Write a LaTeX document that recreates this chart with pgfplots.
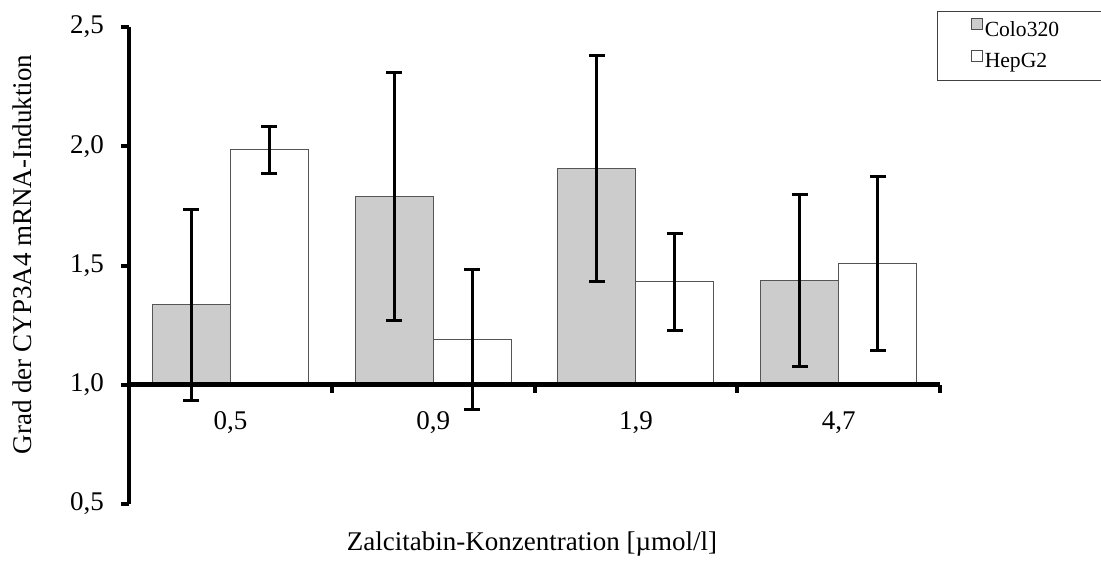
\documentclass[border=0pt]{standalone}
\usepackage{fontspec}
\setmainfont{Liberation Serif}
\usepackage{pgfplots}
\usepackage{pgfplotstable}
\pgfplotsset{compat=1.18}
\definecolor{barfill}{HTML}{CCCCCC}
\definecolor{baredge}{HTML}{555555}
\pgfplotstableread{
x y e
0 1.335 0.400
1 1.788 0.520
2 1.907 0.475
3 1.438 0.360
}\colo
\pgfplotstableread{
x y e
0 1.985 0.098
1 1.190 0.293
2 1.432 0.203
3 1.508 0.365
}\hepg
\begin{document}
\begin{tikzpicture}
\useasboundingbox (0,0) rectangle (550.5pt,287pt);
\begin{axis}[
  at={(64.5pt,35pt)}, anchor=south west,
  scale only axis, width=405.5pt, height=238.5pt,
  y coord trafo/.code={\pgfmathparse{#1-1}},
  y coord inv trafo/.code={\pgfmathparse{#1+1}},
  ymin=0.5, ymax=2.5,
  xmin=-0.5, xmax=3.5,
  clip=false,
  axis on top,
  axis y line*=left, axis x line*=middle,
  axis line style={line width=2.3pt, black},
  ytick={0.5,1,1.5,2,2.5},
  yticklabels={{0,5},{1,0},{1,5},{2,0},{2,5}},
  xtick={-0.5,0.5,1.5,2.5,3.5},
  xticklabels={},
  extra x ticks={0,1,2,3},
  extra x tick labels={{0,5},{0,9},{1,9},{4,7}},
  extra x tick style={major tick length=0pt, tick style={draw=none}},
  tick style={line width=2pt, black},
  major tick length=4pt,
  tick align=outside,
  ticklabel style={font=\fontsize{13.5}{16}\selectfont},
  yticklabel style={xshift=-5pt},
  xticklabel style={anchor=base, yshift=-22.5pt},
  ylabel={Grad der CYP3A4 mRNA-Induktion},
  xlabel={Zalcitabin-Konzentration [µmol/l]},
  every axis y label/.style={at={(axis description cs:-0.132,0.523)}, rotate=90, anchor=center, font=\fontsize{13.5}{16}\selectfont},
  every axis x label/.style={at={(axis description cs:0.497,-0.084)}, anchor=center, font=\fontsize{13.5}{16}\selectfont},
  ybar=0pt, bar width=39pt,
  legend style={at={(axis description cs:0.996,1.034)}, anchor=north west,
    draw=black!75, line width=0.6pt, font=\fontsize{10.8}{12}\selectfont,
    inner xsep=17pt, inner ysep=3pt, row sep=3pt,
    nodes={inner xsep=1pt}},
  legend cell align=left,
]
\addplot[fill=barfill, draw=baredge, line width=0.5pt,
  legend image code/.code={\draw[fill=barfill, draw=black!70, line width=0.4pt] (0pt,0.5pt) rectangle (5.3pt,5.8pt);},
  error bars/.cd, y dir=both, y explicit,
  error bar style={line width=1.6pt, black},
  error mark options={rotate=90, mark size=4pt, line width=1.6pt, black},
  ]
  table[x=x, y=y, y error=e] {\colo};
\addlegendentry{Colo320\hspace*{40pt}}
\addplot[fill=white, draw=baredge, line width=0.5pt,
  legend image code/.code={\draw[fill=white, draw=black!70, line width=0.4pt] (0pt,0.5pt) rectangle (5.3pt,5.8pt);},
  error bars/.cd, y dir=both, y explicit,
  error bar style={line width=1.6pt, black},
  error mark options={rotate=90, mark size=4pt, line width=1.6pt, black},
  ]
  table[x=x, y=y, y error=e] {\hepg};
\addlegendentry{HepG2}
\end{axis}
\end{tikzpicture}
\end{document}
